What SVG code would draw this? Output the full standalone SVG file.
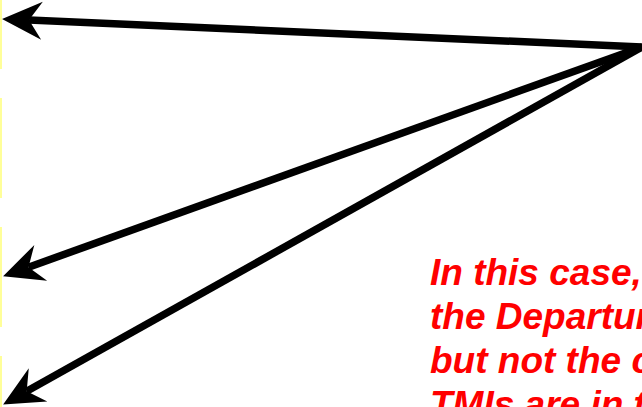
<svg xmlns="http://www.w3.org/2000/svg" width="642" height="407" viewBox="0 0 642 407">
  <style>
    .strip { fill: #FFFF99; }
    .conn { stroke: #000000; stroke-width: 7.5; fill: none; marker-end: url(#head); }
    .note { font-family: "Liberation Sans", Arial, sans-serif; font-size: 37px; font-weight: bold; font-style: italic; fill: #FF0000; }
  </style>
  <defs>
    <marker id="head" markerUnits="userSpaceOnUse" orient="auto" refX="0" refY="0" markerWidth="80" markerHeight="80" overflow="visible">
      <path d="M27,0 L-13,-19 L0,0 L-13,19 Z" fill="#000000"/>
    </marker>
  </defs>
  <rect width="642" height="407" fill="#FFFFFF"/>
  <g id="strips">
    <rect class="strip" x="0" y="0" width="2" height="69"/>
    <rect class="strip" x="0" y="98" width="2" height="100"/>
    <rect class="strip" x="0" y="227" width="2" height="100"/>
    <rect class="strip" x="0" y="356" width="2" height="51"/>
  </g>
  <g id="connectors">
    <line class="conn" x1="642" y1="47" x2="29" y2="20.1"/>
    <line class="conn" x1="642" y1="47" x2="28.5" y2="267.2"/>
    <line class="conn" x1="642" y1="47" x2="26.7" y2="391.3"/>
  </g>
  <g id="note">
    <text class="note" x="430" y="285">In this case,</text>
    <text class="note" x="430" y="329">the Departur</text>
    <text class="note" x="430" y="373">but not the c</text>
    <text class="note" x="430" y="417">TMIs are in t</text>
  </g>
</svg>
